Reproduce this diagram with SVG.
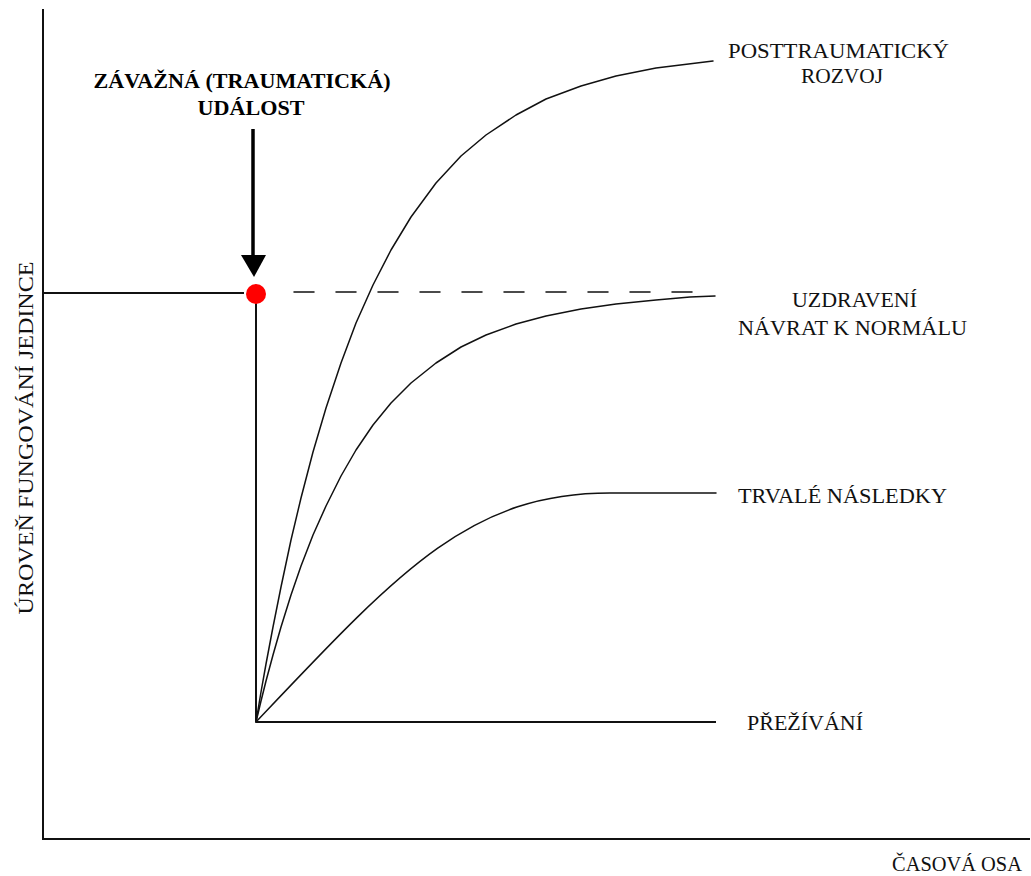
<svg xmlns="http://www.w3.org/2000/svg" width="1031" height="876" viewBox="0 0 1031 876">
<style>
.ax{stroke:#111;stroke-width:2;fill:none}
.ln{stroke:#111;stroke-width:1.5;fill:none;stroke-linejoin:round;stroke-linecap:round}
.lbl{font-family:"Liberation Serif","Times New Roman",serif;font-size:22px;fill:#111}
.ttl{font-family:"Liberation Serif","Times New Roman",serif;font-size:20px;font-weight:bold;fill:#000}
</style>
<rect width="1031" height="876" fill="#fff"/>
<g id="axes">
<line class="ax" x1="43" y1="9" x2="43" y2="839"/>
<line class="ax" x1="42" y1="839" x2="1030" y2="839"/>
<text class="lbl" transform="translate(33,438) rotate(-90)" text-anchor="middle" textLength="353" lengthAdjust="spacingAndGlyphs">ÚROVEŇ FUNGOVÁNÍ JEDINCE</text>
<text class="lbl" x="892" y="871" textLength="130" lengthAdjust="spacingAndGlyphs">ČASOVÁ OSA</text>
</g>
<g id="connectors">
<line class="ax" x1="43" y1="293" x2="244" y2="293"/>
<line class="ln" x1="294" y1="292" x2="712" y2="292" stroke-dasharray="20 22" stroke-linecap="butt"/>
<line class="ax" x1="256" y1="300" x2="256" y2="722"/>
<line class="ax" x1="256" y1="722" x2="716" y2="722"/>
<polyline class="ln" points="256,722 261,692 266,664 273,627 281,587 291,540 301,498 313,452 326,408 341,363 356,323 373,285 391,250 411,217 436,183 461,156 486,135 516,115 546,99 581,86 616,76 656,68 713,61"/>
<polyline class="ln" points="256,722 261,701 266,681 273,655 281,627 291,595 301,566 313,535 326,506 341,476 356,450 373,425 391,403 411,383 436,363 461,347 486,335 516,324 546,316 581,309 616,304 656,300 690,297 715,296"/>
<path class="ln" d="M256,722 C400,570 470,493 610,493 L716,493"/>
<line x1="253" y1="129" x2="253" y2="258" stroke="#000" stroke-width="3.5"/>
<polygon points="241,255 266,255 254,277" fill="#000"/>
</g>
<g id="event">
<circle cx="256" cy="294" r="10" fill="#f00"/>
<text class="ttl" x="242" y="88" text-anchor="middle" textLength="297" lengthAdjust="spacingAndGlyphs">ZÁVAŽNÁ (TRAUMATICKÁ)</text>
<text class="ttl" x="251" y="115" text-anchor="middle" textLength="107" lengthAdjust="spacingAndGlyphs">UDÁLOST</text>
</g>
<g id="posttraumaticky">
<text class="lbl" x="728" y="58" textLength="221" lengthAdjust="spacingAndGlyphs">POSTTRAUMATICKÝ</text>
<text class="lbl" x="801" y="83" textLength="82" lengthAdjust="spacingAndGlyphs">ROZVOJ</text>
</g>
<g id="uzdraveni">
<text class="lbl" x="792" y="307" textLength="125" lengthAdjust="spacingAndGlyphs">UZDRAVENÍ</text>
<text class="lbl" x="738" y="335" textLength="229" lengthAdjust="spacingAndGlyphs">NÁVRAT K NORMÁLU</text>
</g>
<g id="trvale">
<text class="lbl" x="738" y="503" textLength="209" lengthAdjust="spacingAndGlyphs">TRVALÉ NÁSLEDKY</text>
</g>
<g id="prezivani">
<text class="lbl" x="747" y="730" textLength="116" lengthAdjust="spacingAndGlyphs">PŘEŽÍVÁNÍ</text>
</g>
</svg>
